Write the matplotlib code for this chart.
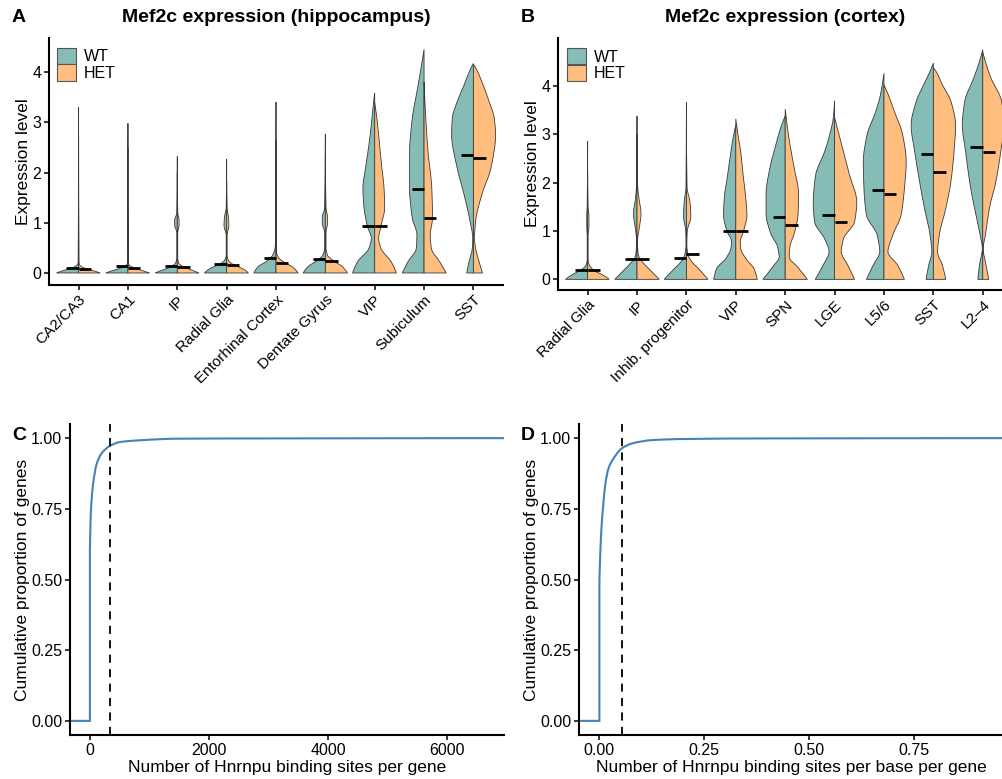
import matplotlib
matplotlib.use('Agg')
import matplotlib.pyplot as plt
from matplotlib.patches import Patch, PathPatch
from matplotlib.path import Path
import numpy as np

plt.rcParams['font.family'] = ['Liberation Sans', 'DejaVu Sans']

# colours
wt_color = '#86BCB6'
het_color = '#FFBE7D'
edge_color = '#3A3A3A'
cdf_color = '#4682B4'

# ---------------- panel A: hippocampus ----------------
hip_cats = ['CA2/CA3', 'CA1', 'IP', 'Radial Glia', 'Entorhinal Cortex',
            'Dentate Gyrus', 'VIP', 'Subiculum', 'SST']
hip_med_wt = [0.10, 0.13, 0.13, 0.17, 0.30, 0.28, 0.94, 1.68, 2.34]
hip_med_het = [0.08, 0.10, 0.11, 0.15, 0.19, 0.24, 0.94, 1.10, 2.28]

# violin outlines: expression levels and relative half-widths
hip_wt_y = [
    [0, 0.04, 0.08, 0.12, 0.16, 0.22, 3.3],
    [0, 0.04, 0.08, 0.12, 0.16, 0.22, 2.98],
    [0, 0.05, 0.1, 0.15, 0.2, 0.3, 0.8, 0.95, 1.05, 1.2, 2.32],
    [0, 0.06, 0.12, 0.18, 0.25, 0.35, 0.75, 0.95, 1.1, 1.3, 2.27],
    [0, 0.12, 0.25, 0.38, 0.5, 0.7, 3.4],
    [0, 0.12, 0.25, 0.35, 0.5, 0.8, 1.0, 1.1, 1.3, 2.77],
    [0, 0.22, 0.49, 0.69, 0.93, 1.3, 1.7, 2.1, 2.55, 3.0, 3.4, 3.58],
    [0, 0.22, 0.49, 0.76, 1.09, 1.68, 2.41, 3.07, 3.73, 4.2, 4.45],
    [0, 0.22, 0.49, 0.69, 1.03, 1.56, 2.09, 2.75, 3.08, 3.41, 3.74, 4.07, 4.17],
]
hip_wt_w = [
    [1.0, 0.75, 0.45, 0.2, 0.06, 0.02, 0],
    [1.0, 0.75, 0.45, 0.2, 0.06, 0.02, 0],
    [1.0, 0.72, 0.42, 0.2, 0.08, 0.02, 0.02, 0.12, 0.12, 0.02, 0],
    [1.0, 0.85, 0.6, 0.3, 0.1, 0.02, 0.02, 0.12, 0.1, 0.02, 0],
    [1.0, 0.82, 0.37, 0.12, 0.04, 0.02, 0],
    [1.0, 0.8, 0.37, 0.12, 0.03, 0.03, 0.14, 0.14, 0.03, 0],
    [1.0, 0.78, 0.26, 0.15, 0.33, 0.48, 0.53, 0.41, 0.26, 0.14, 0.05, 0],
    [0.98, 0.73, 0.35, 0.32, 0.53, 0.65, 0.65, 0.53, 0.27, 0.09, 0],
    [0.3, 0.2, 0.05, 0.03, 0.15, 0.42, 0.73, 0.98, 0.95, 0.73, 0.42, 0.12, 0],
]
hip_het_y = [
    [0, 0.04, 0.08, 0.12, 0.16, 0.22, 2.8],
    [0, 0.04, 0.08, 0.12, 0.16, 0.22, 2.5],
    [0, 0.05, 0.1, 0.15, 0.2, 0.3, 0.8, 0.95, 1.05, 1.2, 2.0],
    [0, 0.06, 0.12, 0.18, 0.25, 0.35, 0.75, 0.95, 1.1, 1.3, 1.85],
    [0, 0.12, 0.2, 0.3, 0.4, 0.6, 2.65],
    [0, 0.12, 0.25, 0.35, 0.5, 0.8, 1.0, 1.1, 1.3, 2.3],
    [0, 0.22, 0.49, 0.69, 0.93, 1.3, 1.7, 2.1, 2.55, 3.0, 3.4],
    [0, 0.22, 0.49, 0.76, 1.09, 1.68, 2.41, 3.07, 3.5, 3.8],
    [0, 0.22, 0.49, 0.69, 1.03, 1.56, 2.09, 2.75, 3.08, 3.41, 3.74, 4.07, 4.15],
]
hip_het_w = [
    [0.98, 0.7, 0.4, 0.15, 0.05, 0.02, 0],
    [0.98, 0.7, 0.42, 0.18, 0.05, 0.02, 0],
    [0.98, 0.7, 0.4, 0.18, 0.06, 0.02, 0.02, 0.08, 0.08, 0.02, 0],
    [0.98, 0.82, 0.55, 0.25, 0.08, 0.02, 0.02, 0.1, 0.08, 0.02, 0],
    [1.0, 0.75, 0.42, 0.12, 0.03, 0.02, 0],
    [1.0, 0.78, 0.35, 0.1, 0.03, 0.03, 0.1, 0.1, 0.03, 0],
    [0.98, 0.75, 0.28, 0.18, 0.28, 0.45, 0.42, 0.32, 0.22, 0.12, 0],
    [1.0, 0.71, 0.33, 0.28, 0.38, 0.35, 0.18, 0.08, 0.03, 0],
    [0.41, 0.26, 0.1, 0.05, 0.1, 0.38, 0.79, 1.0, 0.94, 0.71, 0.44, 0.12, 0],
]

# ---------------- panel B: cortex ----------------
ctx_cats = ['Radial Glia', 'IP', 'Inhib. progenitor', 'VIP', 'SPN', 'LGE',
            'L5/6', 'SST', 'L2–4']
ctx_med_wt = [0.19, 0.42, 0.45, 1.0, 1.28, 1.33, 1.85, 2.59, 2.73]
ctx_med_het = [0.19, 0.42, 0.52, 1.0, 1.13, 1.19, 1.76, 2.21, 2.64]

ctx_wt_y = [
    [0, 0.06, 0.12, 0.18, 0.22, 0.29, 0.4, 0.9, 1.1, 1.3, 1.5, 2.86],
    [0, 0.22, 0.36, 0.43, 0.57, 0.8, 1.0, 1.36, 1.7, 2.0, 3.38],
    [0, 0.22, 0.36, 0.5, 0.7, 1.0, 1.3, 1.6, 1.9, 3.66],
    [0, 0.22, 0.43, 0.64, 0.78, 1.0, 1.33, 1.67, 2.15, 2.64, 2.98, 3.19],
    [0, 0.26, 0.46, 0.67, 0.94, 1.35, 1.77, 2.32, 2.8, 3.14, 3.38],
    [0, 0.29, 0.57, 0.84, 1.19, 1.6, 2.16, 2.64, 2.99, 3.33, 3.69],
    [0, 0.29, 0.57, 0.92, 1.33, 1.88, 2.43, 2.99, 3.47, 3.81, 4.26],
    [0, 0.29, 0.57, 0.92, 1.47, 2.02, 2.64, 3.19, 3.68, 4.02, 4.3, 4.47],
    [0, 0.29, 0.64, 0.92, 1.47, 2.02, 2.64, 3.19, 3.68, 4.16, 4.5, 4.75],
]
ctx_wt_w = [
    [1.0, 0.82, 0.6, 0.35, 0.22, 0.08, 0.02, 0.02, 0.04, 0.04, 0.02, 0],
    [1.0, 0.53, 0.24, 0.12, 0.04, 0.02, 0.06, 0.16, 0.06, 0.02, 0],
    [1.0, 0.55, 0.25, 0.08, 0.02, 0.03, 0.13, 0.1, 0.02, 0],
    [1.0, 0.87, 0.45, 0.22, 0.19, 0.4, 0.55, 0.52, 0.37, 0.22, 0.1, 0],
    [1.0, 0.56, 0.27, 0.34, 0.64, 0.86, 0.86, 0.68, 0.41, 0.2, 0],
    [0.87, 0.52, 0.25, 0.45, 0.9, 0.96, 0.85, 0.45, 0.22, 0.06, 0],
    [0.79, 0.49, 0.19, 0.31, 0.79, 0.9, 0.93, 0.76, 0.37, 0.16, 0],
    [0.33, 0.21, 0.07, 0.15, 0.4, 0.62, 0.84, 1.0, 0.77, 0.44, 0.15, 0],
    [0.22, 0.15, 0.02, 0.12, 0.37, 0.59, 0.77, 0.92, 0.81, 0.41, 0.15, 0],
]
ctx_het_y = [
    [0, 0.06, 0.12, 0.18, 0.22, 0.29, 0.4, 0.9, 1.1, 1.3, 1.5, 2.2],
    [0, 0.22, 0.36, 0.43, 0.57, 0.8, 1.0, 1.36, 1.7, 2.0, 3.0],
    [0, 0.22, 0.36, 0.5, 0.7, 1.0, 1.3, 1.6, 1.9, 3.2],
    [0, 0.22, 0.43, 0.64, 0.78, 1.0, 1.33, 1.67, 2.15, 2.64, 2.98, 3.32],
    [0, 0.26, 0.46, 0.67, 0.94, 1.35, 1.77, 2.32, 2.8, 3.14, 3.52],
    [0, 0.29, 0.57, 0.84, 1.19, 1.6, 2.16, 2.64, 2.99, 3.35],
    [0, 0.29, 0.57, 0.92, 1.33, 1.88, 2.43, 2.99, 3.47, 3.81, 4.02],
    [0, 0.29, 0.57, 0.92, 1.47, 2.02, 2.64, 3.19, 3.68, 4.02, 4.3, 4.38],
    [0, 0.29, 0.64, 0.92, 1.47, 2.02, 2.64, 3.19, 3.68, 4.16, 4.5, 4.7],
]
ctx_het_w = [
    [0.97, 0.8, 0.55, 0.3, 0.2, 0.08, 0.02, 0.02, 0.06, 0.06, 0.02, 0],
    [1.0, 0.53, 0.24, 0.12, 0.04, 0.02, 0.08, 0.18, 0.08, 0.02, 0],
    [0.97, 0.55, 0.25, 0.08, 0.02, 0.04, 0.2, 0.16, 0.03, 0],
    [0.97, 0.82, 0.45, 0.22, 0.2, 0.35, 0.5, 0.45, 0.33, 0.22, 0.1, 0],
    [1.0, 0.55, 0.18, 0.21, 0.4, 0.58, 0.6, 0.4, 0.21, 0.1, 0],
    [0.9, 0.6, 0.3, 0.4, 0.9, 1.0, 0.67, 0.4, 0.2, 0],
    [0.92, 0.62, 0.18, 0.4, 0.77, 0.92, 1.0, 0.84, 0.47, 0.2, 0],
    [0.56, 0.41, 0.19, 0.27, 0.56, 0.79, 0.93, 1.0, 0.79, 0.41, 0.12, 0],
    [0.27, 0.15, 0.02, 0.12, 0.3, 0.59, 0.81, 0.95, 0.85, 0.37, 0.12, 0],
]

# ---------------- panels C, D: cumulative distributions ----------------
sites_x = [0, 0, 10, 25, 52, 109, 193, 333, 501, 887, 1454, 3000, 6620]
sites_cdf = [0, 0.6, 0.7, 0.77, 0.834, 0.905, 0.945, 0.972, 0.986, 0.993, 0.998, 0.999, 1.0]
sites_cut = 340

perbase_x = [0, 0, 0.004, 0.009, 0.0138, 0.0217, 0.0336, 0.0536, 0.0774, 0.125, 0.204, 0.4, 0.97]
perbase_cdf = [0, 0.5, 0.66, 0.76, 0.834, 0.893, 0.928, 0.964, 0.981, 0.993, 0.997, 0.999, 1.0]
perbase_cut = 0.053

# ---------------- figure ----------------
W, H = 1003, 779
fig = plt.figure(figsize=(W / 100, H / 100), dpi=100)

tick_size = 11.5
label_size = 12.5


def axes_px(left, top, right, bottom):
    return fig.add_axes([left / W, 1 - bottom / H, (right - left) / W, (bottom - top) / H])


def style(ax):
    for s in ['top', 'right']:
        ax.spines[s].set_visible(False)
    for s in ['left', 'bottom']:
        ax.spines[s].set_linewidth(1.5)
    ax.tick_params(length=3.5, width=1.1, labelsize=tick_size, color='black', pad=2)


# smooth outline through the read points (monotone cubic, drawn as Bezier)
def slopes(t, v):
    h = np.diff(t)
    d = np.diff(v) / h
    m = np.zeros_like(v)
    m[0], m[-1] = d[0], d[-1]
    for k in range(1, len(v) - 1):
        if d[k - 1] * d[k] > 0:
            w1 = 2 * h[k] + h[k - 1]
            w2 = h[k] + 2 * h[k - 1]
            m[k] = (w1 + w2) / (w1 / d[k - 1] + w2 / d[k])
    return m


def bezier(t, v):
    t = np.asarray(t, float)
    v = np.asarray(v, float)
    m = slopes(t, v)
    out = []
    for k in range(len(t) - 1):
        h = t[k + 1] - t[k]
        out += [(t[k] + h / 3, v[k] + m[k] * h / 3),
                (t[k + 1] - h / 3, v[k + 1] - m[k + 1] * h / 3),
                (t[k + 1], v[k + 1])]
    return out


def half_violin(ax, pos, ys, ws, side, color):
    half = 0.45
    verts = [(pos, ys[0]), (pos + side * ws[0] * half, ys[0])]
    codes = [Path.MOVETO, Path.LINETO]
    for t, v in bezier(ys, ws):
        verts.append((pos + side * v * half, t))
        codes.append(Path.CURVE4)
    verts += [(pos, ys[0]), (pos, ys[0])]
    codes += [Path.LINETO, Path.CLOSEPOLY]
    ax.add_patch(PathPatch(Path(verts, codes), facecolor=color, edgecolor=edge_color,
                           lw=0.6, zorder=2))


def violins(ax, cats, wy, ww, hy, hw, mwt, mhet):
    for i in range(len(cats)):
        pos = i + 1
        half_violin(ax, pos, wy[i], ww[i], -1, wt_color)
        half_violin(ax, pos, hy[i], hw[i], 1, het_color)
        ax.plot([pos - 0.25, pos], [mwt[i], mwt[i]], color='black', lw=2, zorder=3,
                solid_capstyle='butt')
        ax.plot([pos, pos + 0.25], [mhet[i], mhet[i]], color='black', lw=2, zorder=3,
                solid_capstyle='butt')
    ax.set_xticks(range(1, len(cats) + 1))
    ax.set_xticklabels(cats, rotation=45, ha='right', rotation_mode='anchor', fontsize=11)
    ax.set_yticks([0, 1, 2, 3, 4])
    ax.set_ylabel('Expression level', fontsize=label_size, labelpad=1)
    handles = [Patch(facecolor=wt_color, edgecolor='#555555', lw=0.8, label='WT'),
               Patch(facecolor=het_color, edgecolor='#555555', lw=0.8, label='HET')]
    return handles


def legend(ax, handles, anchor):
    ax.legend(handles=handles, loc='upper left', bbox_to_anchor=anchor, frameon=False,
              fontsize=11.5, handlelength=1.19, handleheight=1.19, labelspacing=0,
              borderpad=0, borderaxespad=0, handletextpad=0.5)


# A
axA = axes_px(49, 38, 503, 285)
style(axA)
hA = violins(axA, hip_cats, hip_wt_y, hip_wt_w, hip_het_y, hip_het_w, hip_med_wt, hip_med_het)
axA.set_xlim(0.4, 9.6)
axA.set_ylim(-0.239, 4.677)
legend(axA, hA, (0.0176, 0.96))

# B
axB = axes_px(558, 38, 1003, 290)
style(axB)
hB = violins(axB, ctx_cats, ctx_wt_y, ctx_wt_w, ctx_het_y, ctx_het_w, ctx_med_wt, ctx_med_het)
axB.set_xlim(0.4, 9.41)
axB.set_ylim(-0.22, 4.99)
legend(axB, hB, (0.0195, 0.96))


def cdf(ax, xs, ys, xlim, cut, xlabel):
    style(ax)
    ax.set_xlim(xlim)
    ax.set_ylim(-0.05, 1.05)
    verts = [(xlim[0], ys[0]), (xs[0], ys[0]), (xs[1], ys[1])]
    codes = [Path.MOVETO, Path.LINETO, Path.LINETO]
    for p in bezier(xs[1:], ys[1:]):
        verts.append(p)
        codes.append(Path.CURVE4)
    verts.append((xlim[1], ys[-1]))
    codes.append(Path.LINETO)
    ax.add_patch(PathPatch(Path(verts, codes), fill=False, edgecolor=cdf_color,
                           lw=1.5, zorder=2))
    ax.axvline(cut, color='black', lw=1.3, ls=(0, (4.5, 3.5)), zorder=3)
    ax.set_yticks([0, 0.25, 0.5, 0.75, 1.0])
    ax.set_yticklabels(['0.00', '0.25', '0.50', '0.75', '1.00'])
    ax.set_ylabel('Cumulative proportion of genes', fontsize=label_size, labelpad=1)
    ax.set_xlabel(xlabel, fontsize=label_size, labelpad=2)


axC = axes_px(70, 424, 504, 735)
cdf(axC, sites_x, sites_cdf, (-334, 6955), sites_cut,
    'Number of Hnrnpu binding sites per gene')
axC.set_xticks([0, 2000, 4000, 6000])

axD = axes_px(579, 424, 1003, 735)
cdf(axD, perbase_x, perbase_cdf, (-0.0486, 0.9614), perbase_cut,
    'Number of Hnrnpu binding sites per base per gene')
axD.set_xticks([0, 0.25, 0.5, 0.75])
axD.set_xticklabels(['0.00', '0.25', '0.50', '0.75'])

# titles and panel letters
fig.text(276 / W, 1 - 18 / H, 'Mef2c expression (hippocampus)', ha='center', va='center',
         fontsize=14, fontweight='bold')
fig.text(785 / W, 1 - 18 / H, 'Mef2c expression (cortex)', ha='center', va='center',
         fontsize=14, fontweight='bold')
for lab, x, y in [('A', 12, 18), ('B', 521, 18), ('C', 12, 436), ('D', 521, 436)]:
    fig.text(x / W, 1 - y / H, lab, ha='left', va='center', fontsize=14, fontweight='bold')

fig.savefig('out.png', dpi=100)
